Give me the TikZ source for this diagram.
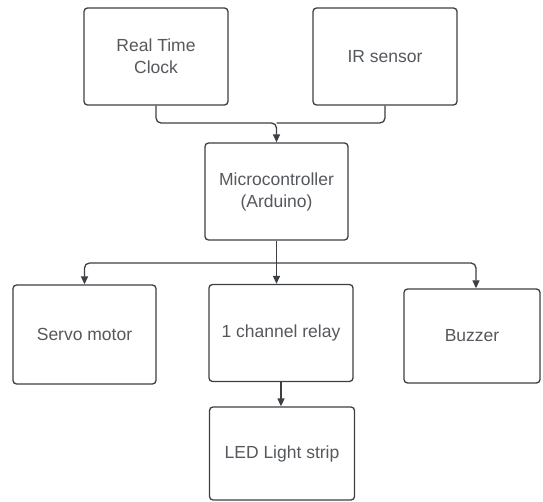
\documentclass[tikz,border=0pt]{standalone}
\usepackage{fontspec}
\setmainfont{Liberation Sans}
\usetikzlibrary{arrows.meta}
\definecolor{linec}{HTML}{3C3F44}
\definecolor{textc}{HTML}{55585D}
\begin{document}
\begin{tikzpicture}[x=1pt,y=-1pt,
  blk/.style={draw=linec, line width=1.3pt, rounded corners=3.5pt, fill=white,
    text=textc, align=center, inner sep=0pt,
    font=\fontsize{17.5}{22}\selectfont},
  conn/.style={draw=linec, line width=1.3pt, rounded corners=5pt},
  arr/.style={conn, -{Triangle[length=8pt,width=7pt]}}]
\useasboundingbox (0,0) rectangle (543,502);
\node[blk, minimum width=144pt, minimum height=97pt] (rtc) at (156,56.5) {Real Time\\Clock};
\node[blk, minimum width=144pt, minimum height=97pt] (ir) at (385,56.5) {IR sensor};
\node[blk, minimum width=143pt, minimum height=97pt] (mc) at (276.5,191.5) {Microcontroller\\(Arduino)};
\node[blk, minimum width=143pt, minimum height=99pt] (sv) at (84.5,334.5) {Servo motor};
\node[blk, minimum width=144pt, minimum height=97pt] (rl) at (281,333) {1 channel relay};
\node[blk, minimum width=136pt, minimum height=94pt] (bz) at (472,336) {Buzzer};
\node[blk, minimum width=145pt, minimum height=93pt] (led) at (282,453.5) {LED Light strip};
\coordinate (j1) at (276.5,123);
\coordinate (j2) at (276.5,263);
\draw[arr] (rtc.south) |- (j1) -- (mc.north);
\draw[conn] (ir.south) |- (j1);
\draw[conn] (mc.south) -- (j2);
\draw[arr] (j2) -| (sv.north);
\draw[arr] (j2) -- (rl.north -| j2);
\draw[arr] (j2) -| ([xshift=4pt]bz.north);
\draw[arr] (rl.south) -- (led.north -| rl.south);
\end{tikzpicture}
\end{document}
